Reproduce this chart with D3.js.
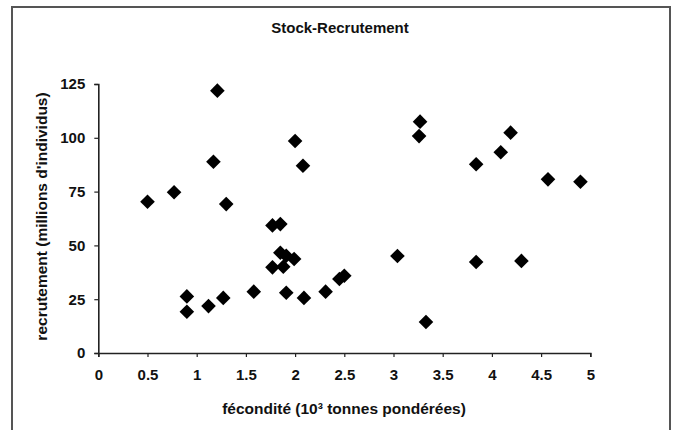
<!DOCTYPE html>
<html>
<head>
<meta charset="utf-8">
<script src="https://cdn.jsdelivr.net/npm/d3@7"></script>
<style>
  body { margin: 0; background: #fff; }
  svg { display: block; }
  text { font-family: "Liberation Sans", Arial, sans-serif; font-weight: bold; fill: #111; }
</style>
</head>
<body>
<svg id="chart" width="675" height="430"></svg>
<script>
const fecondite = [0.50, 0.77, 0.90, 0.90, 1.12, 1.17, 1.21, 1.27, 1.30, 1.58, 1.77, 1.85, 1.77, 1.85, 1.91, 1.88, 1.99, 1.91, 2.00, 2.08, 2.09, 2.31, 2.45, 2.50, 3.27, 3.26, 4.19, 4.09, 3.84, 4.57, 4.90, 3.04, 3.84, 4.30, 3.33];
const recrutement = [70.3, 74.7, 26.3, 19.2, 21.8, 88.9, 121.9, 25.6, 69.2, 28.5, 59.3, 59.9, 39.8, 46.6, 45.2, 40.1, 43.7, 28.0, 98.5, 87.0, 25.6, 28.5, 34.4, 35.9, 107.5, 100.8, 102.4, 93.3, 87.7, 80.7, 79.6, 45.1, 42.3, 42.8, 14.4];
const xTicks = [0, 0.5, 1, 1.5, 2, 2.5, 3, 3.5, 4, 4.5, 5];
const yTicks = [0, 25, 50, 75, 100, 125];
const title = "Stock-Recrutement";
const xTitle = "fécondité (10³ tonnes pondérées)";
const yTitle = "recrutement (millions d'individus)";

const svg = d3.select("#chart");

// outer frame
svg.append("rect").attr("x", 12).attr("y", 7).attr("width", 658).attr("height", 440)
  .attr("fill", "none").attr("stroke", "#555").attr("stroke-width", 2);

const x = d3.scaleLinear().domain([0, 5]).range([98.3, 590.3]);
const y = d3.scaleLinear().domain([0, 125]).range([353, 84]);

const xAxis = svg.append("g").attr("transform", `translate(0,${y(0)})`)
  .call(d3.axisBottom(x).tickValues(xTicks).tickSize(4).tickPadding(12).tickFormat(d3.format("")));
const yAxis = svg.append("g").attr("transform", `translate(${x(0)},0)`)
  .call(d3.axisLeft(y).tickValues(yTicks).tickSize(4).tickPadding(9));

[xAxis, yAxis].forEach(g => {
  g.select(".domain").attr("stroke", "#222").attr("stroke-width", 1.6);
  g.selectAll(".tick line").attr("stroke", "#222").attr("stroke-width", 1.2);
  g.selectAll(".tick text").style("font-family", '"Liberation Sans", Arial, sans-serif')
    .style("font-weight", "bold").style("font-size", "15px").attr("fill", "#111");
});

const diamond = "M0,-7.3L7.3,0L0,7.3L-7.3,0Z";
svg.append("g").selectAll("path").data(fecondite.map((d, i) => [d, recrutement[i]]))
  .join("path")
  .attr("d", diamond)
  .attr("transform", d => `translate(${x(d[0])},${y(d[1])})`)
  .attr("fill", "#000");

svg.append("text").attr("x", 340).attr("y", 33).attr("text-anchor", "middle")
  .style("font-size", "15px").text(title);

svg.append("text").attr("x", 344).attr("y", 414).attr("text-anchor", "middle")
  .style("font-size", "15.5px")
  .text(xTitle);

svg.append("text").attr("transform", "translate(47,216.5) rotate(-90)").attr("text-anchor", "middle")
  .style("font-size", "15.5px").text(yTitle);
</script>
</body>
</html>
